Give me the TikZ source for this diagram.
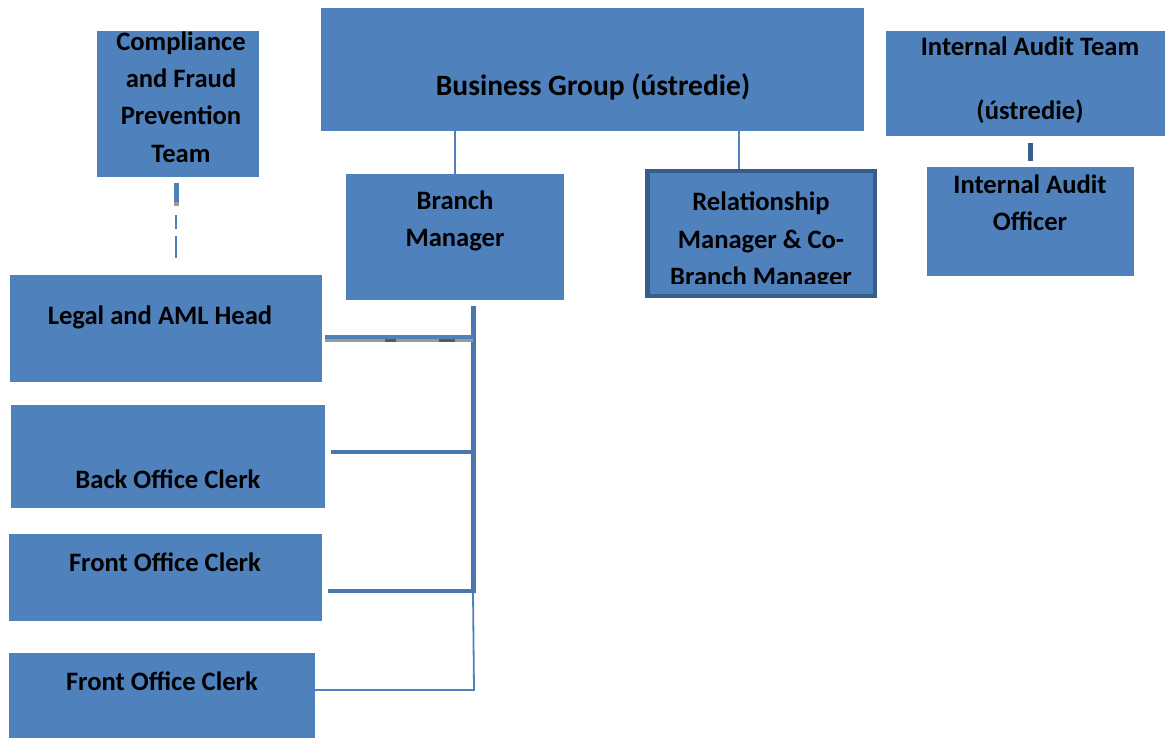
\documentclass[tikz,border=0pt]{standalone}
\usepackage{fontspec}
\setmainfont{Carlito}
\definecolor{boxblue}{HTML}{4F81BD}
\definecolor{darkblue}{HTML}{385D8A}
\definecolor{lineblue}{HTML}{4A76AE}
\definecolor{shadowgray}{HTML}{9A9A9A}
\begin{document}
\begin{tikzpicture}[x=1pt,y=-1pt,
  box/.style={fill=boxblue,draw=none,inner sep=0pt,outer sep=0pt,anchor=north west},
  lbl/.style={font=\fontsize{26.6}{37.3}\selectfont\bfseries,align=center,inner sep=0pt,text=black},
  thin/.style={draw=boxblue,line width=1.8pt},
  thick/.style={draw=lineblue,line width=4pt}]
\useasboundingbox (0,0) rectangle (1166,738);
% boxes
\node[box,minimum width=162pt,minimum height=146pt] (cmp) at (97,31) {};
\node[box,minimum width=543pt,minimum height=123pt] (bg) at (321,8) {};
\node[box,minimum width=279pt,minimum height=105pt] (iat) at (886,31) {};
\node[box,minimum width=207pt,minimum height=109pt] (iao) at (927,167) {};
\node[box,minimum width=218pt,minimum height=126pt] (bm) at (346,174) {};
\node[box,minimum width=232pt,minimum height=129pt] (rm) at (645,169) {};
\node[box,minimum width=312pt,minimum height=107pt] (legal) at (10,275) {};
\node[box,minimum width=314pt,minimum height=103pt] (back) at (11,405) {};
\node[box,minimum width=313pt,minimum height=87pt] (front1) at (9,534) {};
\node[box,minimum width=306pt,minimum height=85pt] (front2) at (9,653) {};
% texts
\node[lbl] (cmpT) at (181,97) {Compliance\\and Fraud\\Prevention\\Team};
\node[lbl,font=\fontsize{29.5}{37}\selectfont\bfseries] (bgT) at (593,86.5) {Business Group (ústredie)};
\node[lbl] (iatT) at (1030,80.5) {Internal Audit Team\\[27pt](ústredie)};
\node[lbl] (iaoT) at (1030,203) {Internal Audit\\Officer};
\node[lbl] (bmT) at (455,221) {Branch\\Manager};
\begin{scope}
\clip (645,169) rectangle (877,283);
\node[lbl] (rmT) at (761,241) {Relationship\\Manager \& Co-\\Branch Manager};
\end{scope}
\draw[darkblue,line width=4.5pt] ([shift={(2.25pt,-2.25pt)}]rm.north west) rectangle ([shift={(-2.25pt,2.25pt)}]rm.south east);
\node[lbl] (legalT) at (160,317) {Legal and AML Head};
\node[lbl] (backT) at (168,479) {Back Office Clerk};
\node[lbl] (front1T) at (165,562) {Front Office Clerk};
\node[lbl] (front2T) at (162,681) {Front Office Clerk};
% connectors top
\draw[thin] (bg.south -| bm.north) coordinate (bgA) -- (bm.north);
\draw[thin] (bg.south -| 739,0) coordinate (bgB) -- (rm.north -| 739,0);
\draw[draw=darkblue,line width=5pt] (iat.south -| 1030,0) ++(0,7) coordinate (iatB) -- ++(0,18) coordinate (iatC);
% compliance dashed
\coordinate (cmpEnd) at (176,258);
\draw[draw=boxblue,line width=5pt] (cmp.south -| 176,0) ++(0,6) coordinate (cmpA) -- ++(0,19) coordinate (cmpB);
\draw[draw=shadowgray,line width=5pt] (cmpB) -- ++(0,4);
\draw[draw=boxblue,line width=1.8pt,dash pattern=on 14pt off 7pt on 22pt off 7pt] (176,215) coordinate (cmpC) -- (cmpEnd);
% branch manager trunk
\coordinate (trunkTop) at (473,306);
\coordinate (trunkMid) at (473,593);
\coordinate (trunkBot) at (474,690);
\draw[thick,line width=5pt] (trunkTop) -- (trunkMid);
\draw[thin] (trunkMid) -- (trunkBot) -- (front2.east |- trunkBot);
% legal line with shadow
\draw[draw=shadowgray,line width=3pt] (325,340.5) coordinate (lgS) -- (473,340.5);
\draw[draw=black!65,line width=3pt] (385,340.5) -- (396,340.5) (439,340.5) -- (455,340.5);
\draw[draw=boxblue,line width=3.5pt] (legal.east |- 0,337) ++(3,0) coordinate (lgA) -- (473,337);
\draw[thick] (331,452) coordinate (bkA) -- (473,452);
\draw[thick] (328,591) coordinate (f1A) -- (473,591);
\end{tikzpicture}
\end{document}
